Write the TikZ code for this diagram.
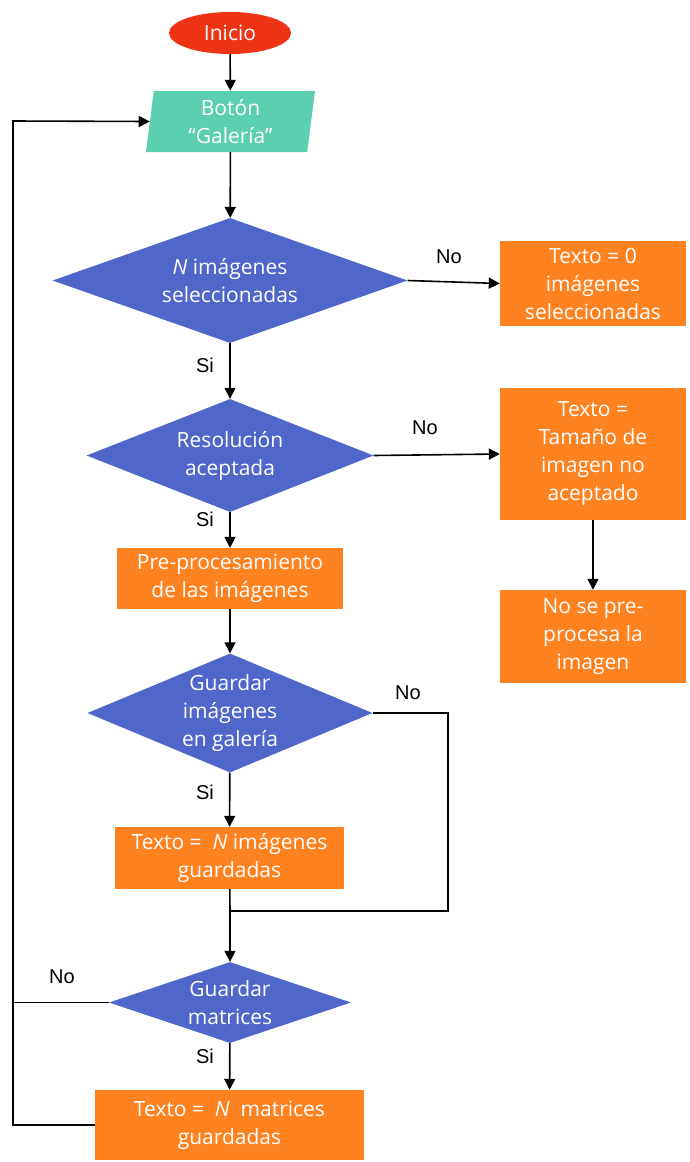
\documentclass[tikz,border=0pt]{standalone}
\usepackage{fontspec}
\setmainfont{Open Sans}
\newfontfamily\lblfont{Liberation Sans}
\usetikzlibrary{shapes.geometric,arrows.meta,calc}
\definecolor{decblue}{HTML}{4F67C8}
\definecolor{procorange}{HTML}{FF8221}
\definecolor{startred}{HTML}{EF3416}
\definecolor{inputteal}{HTML}{5DCFB1}
\begin{document}
\begin{tikzpicture}[x=1pt,y=-1pt,
  txt/.style={text=white, font=\fontsize{21}{28}\selectfont, align=center},
  proc/.style={txt, rectangle, fill=procorange, inner sep=0pt},
  dec/.style={diamond, fill=decblue, inner sep=0pt},
  flow/.style={line width=1.6pt, -{Triangle[width=11pt,length=11pt]}},
  link/.style={line width=1.6pt},
  lbl/.style={font=\lblfont\fontsize{20}{22}\selectfont, inner sep=0pt}]
\useasboundingbox (0,0) rectangle (690,1162);

% start and input
\node[ellipse, fill=startred, minimum width=122pt, minimum height=42pt, inner sep=0pt, txt] (ini) at (230,33) {Inicio};
\node[trapezium, trapezium left angle=80, trapezium right angle=100, trapezium stretches body,
      fill=inputteal, minimum width=169pt, minimum height=61pt, inner sep=0pt, txt] (gal) at (230.5,121.5) {Botón\\“Galería”};

% decisions
\node[dec, minimum width=355pt, minimum height=125pt,
      label={[txt]center:\textit{N} imágenes\\seleccionadas}] (d1) at (230,280.5) {};
\node[dec, minimum width=287pt, minimum height=113pt,
      label={[txt]center:Resolución\\aceptada}] (d2) at (230,455.5) {};
\node[dec, minimum width=285pt, minimum height=119pt,
      label={[txt]center:Guardar\\imágenes\\en galería}] (d3) at (230,713) {};
\node[dec, minimum width=242pt, minimum height=81pt,
      label={[txt]center:Guardar\\matrices}] (d4) at (230,1002.5) {};

% process boxes
\node[proc, minimum width=186pt, minimum height=85pt] (box1) at (593,283.5) {Texto = 0\\imágenes\\seleccionadas};
\node[proc, minimum width=186pt, minimum height=132pt] (box2) at (593,454) {Texto =\\Tamaño de\\imagen no\\aceptado};
\node[proc, minimum width=186pt, minimum height=93pt] (box3) at (593,636.5) {No se pre-\\procesa la\\imagen};
\node[proc, minimum width=226pt, minimum height=61pt] (pre) at (230,578.5) {Pre-procesamiento\\de las imágenes};
\node[proc, minimum width=229pt, minimum height=62pt] (sav) at (229.5,858) {Texto =\ \ \textit{N} imágenes\\guardadas};
\node[proc, minimum width=269pt, minimum height=70pt] (mat) at (229.5,1125) {Texto =\ \ \textit{N}\ \ matrices\\guardadas};

% junction points
\coordinate (merge) at (230,911);
\coordinate (side) at (448,911);
\coordinate (rail) at (13,121);

% connectors
\draw[flow] (ini) -- (gal);
\draw[flow] (gal) -- (d1);
\draw[flow] (d1.east) -- (box1.west);
\draw[flow] (d1) -- (d2);
\draw[flow] (d2.east) -- (box2.west);
\draw[flow] (box2) -- (box3);
\draw[flow] (d2) -- (pre);
\draw[flow] (pre) -- (d3);
\draw[flow] (d3) -- (sav);
\draw[link] (d3.east) -| (side) -- (merge);
\draw[link] (sav) -- (merge);
\draw[flow] (merge) -- (d4);
\draw[flow] (d4) -- (mat);
\draw[flow] (mat.west) -| (rail) -- (gal.west);
\draw[link] (d4.west) -- (d4.west -| rail);

% branch labels
\node[lbl] (n1) at (449,257) {No};
\node[lbl] (s1) at (205,365) {Si};
\node[lbl] (n2) at (425,428) {No};
\node[lbl] (s2) at (205,519) {Si};
\node[lbl] (n3) at (408,693) {No};
\node[lbl] (s3) at (205,792) {Si};
\node[lbl] (n4) at (62,977) {No};
\node[lbl] (s4) at (205,1056) {Si};
\end{tikzpicture}
\end{document}
